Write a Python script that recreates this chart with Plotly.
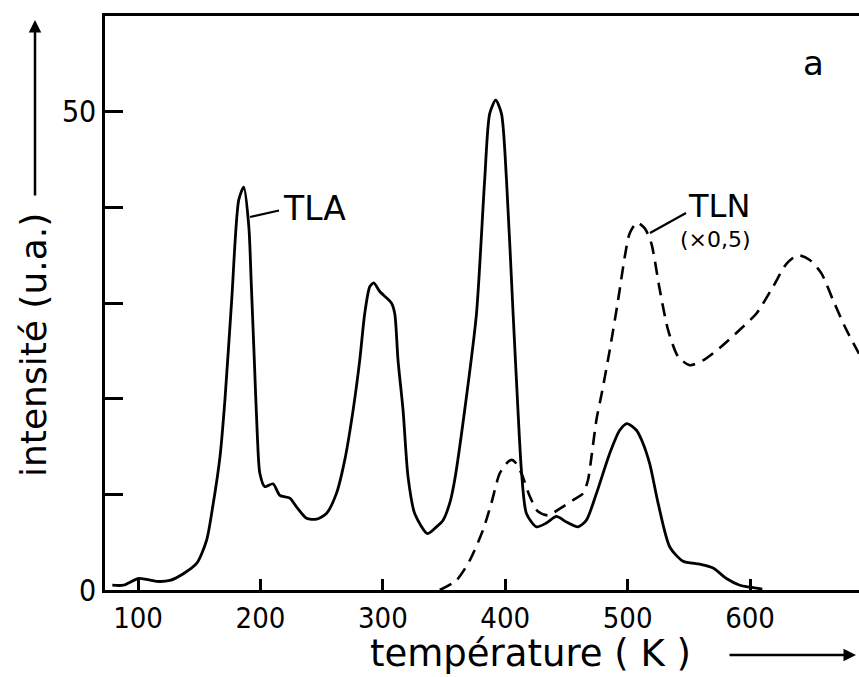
import plotly.graph_objects as go

# TLA (solid) – temperature (K) and intensity (a.u.)
tla_T = [79, 88, 100, 107, 115, 126, 137, 148, 156, 161, 167, 171, 176.5, 182.3, 186.4,
         190.5, 192.5, 195, 197.5, 199.5, 203.5, 210.3, 215.8, 224, 229.4, 237.6, 245.8,
         253.9, 262.1, 268.9, 275.7, 281.1, 285.2, 289.3, 292.6, 297.5, 307, 309.7, 312.4,
         316.5, 320.6, 326, 336.5, 343.8, 349.2, 354.7, 358.7, 368.3, 376.5, 383.2, 387.3,
         392.2, 396.9, 401, 406.4, 410.5, 413.2, 417.3, 425.5, 433.6, 441.8, 450, 459.5,
         466.3, 474.5, 485.4, 493.5, 499.5, 507.2, 512, 518, 525, 534.4, 545.3, 559, 569.8,
         580.7, 591.6, 600, 610]
tla_I = [0.5, 0.5, 1.2, 1.1, 0.9, 1.0, 1.7, 2.8, 5.2, 8.7, 14.0, 19.9, 30.3, 40.8, 42.1,
         38, 32, 24, 16, 12.2, 10.8, 11.1, 9.9, 9.6, 8.7, 7.5, 7.4,
         8.0, 10.1, 13.6, 18.8, 24.0, 28.9, 31.7, 32.1, 31.2, 30.0, 28.9, 24.0,
         18.8, 11.8, 8.0, 5.9, 6.6, 7.3, 9.1, 11.5, 20.2, 28.9, 42.9, 49.8,
         51.2, 49.8, 42.9, 28.9, 18.5, 12.5, 8.0, 6.6, 7.0, 7.7, 7.1, 6.6,
         7.3, 10.1, 14.3, 16.7, 17.4, 16.7, 15.5, 13.2, 9.0, 4.5, 3.0, 2.7, 2.3,
         1.2, 0.5, 0.3, 0.1]

# TLN (dashed, x0.5)
tln_T = [346.5, 360, 371, 381.9, 388.7, 395.5, 402.3, 405.1, 407.8, 413.2, 420, 426.8, 435,
         444.6, 455.4, 463.6, 467.6, 470.4, 474.5, 478.6, 485.4, 492.2, 497.6, 501.7, 507.7,
         514, 519.4, 526.2, 533, 541.2, 550.7, 561.6, 575.2, 591.6, 605.2, 618.8, 629.7,
         639.2, 648.8, 658.3, 667.8, 678.7, 689]
tln_I = [0, 1.0, 3.1, 6.3, 9.1, 12.2, 13.4, 13.6, 13.4, 12.2, 9.8, 8.2, 7.8,
         8.5, 9.4, 10.1, 11.5, 13.9, 17.8, 20.4, 25.1, 30.3, 34.8, 37.3, 38.4,
         37.8, 36.2, 31.4, 27.2, 24.4, 23.5, 24.0, 25.3, 27.2, 28.9, 31.7, 34.1,
         35.0, 34.5, 33.1, 30.3, 27.2, 24.7]

x_ticks = [100, 200, 300, 400, 500, 600]
x_ticktext = ["100", "200", "300", "400", "500", "600"]
y_ticks = [0, 10, 20, 30, 40, 50]
y_ticktext = ["0", "", "", "", "", "50"]

FONT = "DejaVu Sans, sans-serif"
TICKFONT = "DejaVu Sans Condensed, DejaVu Sans, sans-serif"

fig = go.Figure()
fig.add_trace(go.Scatter(x=tla_T, y=tla_I, mode="lines", name="TLA",
                         line=dict(color="black", width=2.8, shape="spline", smoothing=0.7)))
fig.add_trace(go.Scatter(x=tln_T, y=tln_I, mode="lines", name="TLN",
                         line=dict(color="black", width=2.6, shape="spline", smoothing=0.7,
                                   dash="13px,8px")))

W, H = 859, 677
L, R, T, B = 105, 0, 16, 87
pw, ph = W - L - R, H - T - B


def px(xp):
    return (xp - L) / pw


def py(yp):
    return (H - B - yp) / ph


fig.update_layout(
    width=W, height=H,
    margin=dict(l=L, r=R, t=T, b=B),
    paper_bgcolor="white", plot_bgcolor="white",
    showlegend=False,
    font=dict(family=FONT, color="black", size=29),
    xaxis=dict(range=[73, 689], tickvals=x_ticks, ticktext=x_ticktext,
               ticks="inside", ticklen=11, tickwidth=2.5, tickcolor="black",
               showline=True, linecolor="black", linewidth=2.5, mirror=True,
               showgrid=False, zeroline=False, tickfont=dict(size=29, family=TICKFONT)),
    yaxis=dict(range=[0, 60], tickvals=y_ticks, ticktext=y_ticktext,
               ticks="inside", ticklen=18, tickwidth=2.5, tickcolor="black",
               showline=True, linecolor="black", linewidth=2.5,
               showgrid=False, zeroline=False, tickfont=dict(size=30, family=TICKFONT)),
)

annotations = [
    # axis titles
    dict(x=px(530), y=py(676), xref="paper", yref="paper", text="température ( K )",
         showarrow=False, font=dict(size=37, family=FONT), xanchor="center", yanchor="bottom",
         borderpad=0),
    dict(x=px(33), y=py(345), xref="paper", yref="paper", text="intensité (u.a.)",
         showarrow=False, textangle=-90, font=dict(size=36, family=FONT),
         xanchor="center", yanchor="middle"),
    # axis arrows
    dict(x=px(856), y=py(655), xref="paper", yref="paper", text="", showarrow=True,
         ax=-128, ay=0, arrowhead=2, arrowsize=1, arrowwidth=2.5, arrowcolor="black"),
    dict(x=px(35), y=py(20), xref="paper", yref="paper", text="", showarrow=True,
         ax=0, ay=177, arrowhead=2, arrowsize=1, arrowwidth=2.5, arrowcolor="black"),
    # panel label
    dict(x=px(813), y=py(63), xref="paper", yref="paper", text="a", showarrow=False,
         font=dict(size=34, family=FONT), xanchor="center", yanchor="middle"),
    # curve labels
    dict(x=px(281), y=py(208), xref="paper", yref="paper", text="TLA", showarrow=False,
         font=dict(size=33, family=FONT), xanchor="left", yanchor="middle"),
    dict(x=px(686), y=py(206), xref="paper", yref="paper", text="TLN", showarrow=False,
         font=dict(size=32, family=FONT), xanchor="left", yanchor="middle"),
    dict(x=px(678), y=py(239), xref="paper", yref="paper", text="(×0,5)", showarrow=False,
         font=dict(size=22, family=FONT), xanchor="left", yanchor="middle"),
]
fig.update_layout(annotations=annotations)

shapes = [
    dict(type="line", xref="paper", yref="paper", x0=px(250), y0=py(217), x1=px(279), y1=py(210.5),
         line=dict(color="black", width=2.2)),
    dict(type="line", xref="paper", yref="paper", x0=px(650), y0=py(233), x1=px(686), y1=py(213),
         line=dict(color="black", width=2.2)),
]
fig.update_layout(shapes=shapes)

fig.write_html("out.html",
               config={"displayModeBar": False},
               post_script="document.body.style.margin='0';document.body.style.overflow='hidden';")
